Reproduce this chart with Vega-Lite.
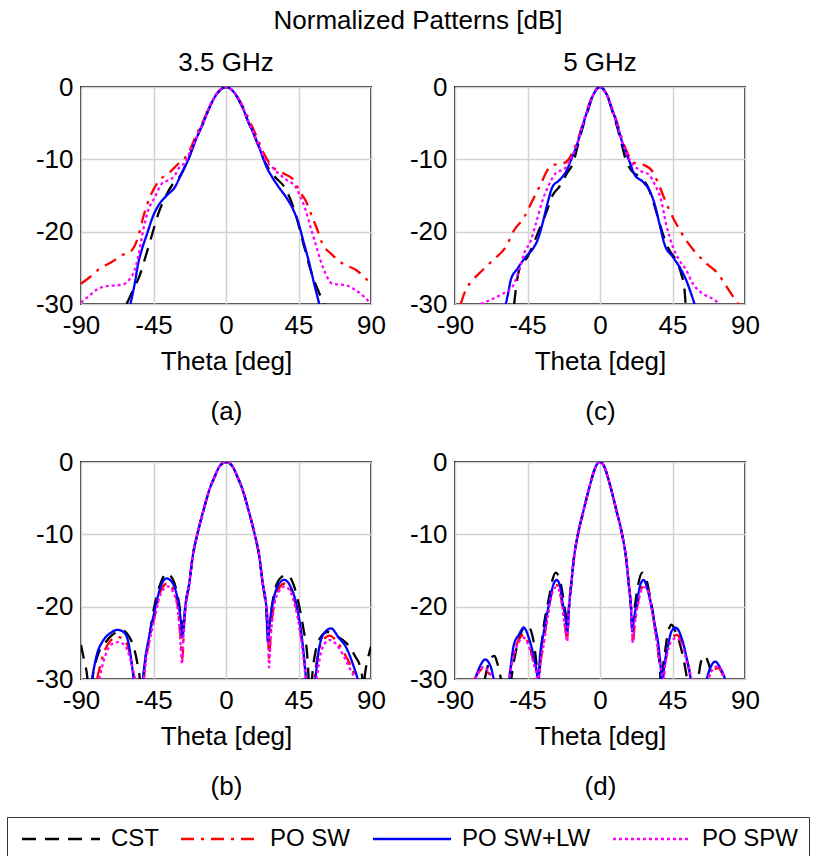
{
"$schema": "https://vega.github.io/schema/vega-lite/v6.json",
"padding": {"left": 6, "top": 8, "right": 0, "bottom": 0},
"title": {"text": "Normalized Patterns [dB]", "anchor": "middle", "fontSize": 26, "fontWeight": "normal", "font": "Liberation Sans", "color": "#000", "offset": 15, "dx": 10},
"config": {
  "font": "Liberation Sans",
  "view": {"stroke": "#333333", "strokeWidth": 2},
  "axis": {"grid": true, "gridColor": "#d2d2d2", "gridWidth": 1.5, "domain": false, "ticks": false, "labelFontSize": 26, "labelColor": "#000", "labelFont": "Liberation Sans", "titleFontSize": 26, "titleFontWeight": "normal", "titleColor": "#000", "titleFont": "Liberation Sans", "labelFlush": false, "labelPadding": 8, "labelExpr": "'' + datum.value"},
  "title": {"fontSize": 26, "fontWeight": "normal", "color": "#000", "font": "Liberation Sans"},
  "legend": {"labelFontSize": 24, "labelFont": "Liberation Sans", "labelColor": "#000"}
},
"data": {"values": [
{"p":"a","s":"CST","t":-61.7,"d":-30},{"p":"a","s":"CST","t":-57.5,"d":-28},{"p":"a","s":"CST","t":-53.5,"d":-26},{"p":"a","s":"CST","t":-50,"d":-23.5},{"p":"a","s":"CST","t":-46,"d":-20.5},{"p":"a","s":"CST","t":-42,"d":-17.5},{"p":"a","s":"CST","t":-38.5,"d":-15.6},{"p":"a","s":"CST","t":-33,"d":-13.4},{"p":"a","s":"CST","t":-28,"d":-12.1},{"p":"a","s":"CST","t":-24.5,"d":-10.6},{"p":"a","s":"CST","t":-21,"d":-8.6},{"p":"a","s":"CST","t":-17,"d":-6.4},{"p":"a","s":"CST","t":-14,"d":-4.9},{"p":"a","s":"CST","t":-10,"d":-2.7},{"p":"a","s":"CST","t":-5,"d":-0.75},{"p":"a","s":"CST","t":0,"d":0},{"p":"a","s":"CST","t":5,"d":-0.75},{"p":"a","s":"CST","t":10,"d":-2.7},{"p":"a","s":"CST","t":14,"d":-4.9},{"p":"a","s":"CST","t":17,"d":-6.4},{"p":"a","s":"CST","t":21,"d":-8.6},{"p":"a","s":"CST","t":24.5,"d":-10.5},{"p":"a","s":"CST","t":30,"d":-12.3},{"p":"a","s":"CST","t":37.5,"d":-14.3},{"p":"a","s":"CST","t":43.5,"d":-17.8},{"p":"a","s":"CST","t":47.5,"d":-21.2},{"p":"a","s":"CST","t":53.5,"d":-26},{"p":"a","s":"CST","t":57.5,"d":-28.3},{"p":"a","s":"CST","t":61,"d":-30},
{"p":"a","s":"PO SW","t":-90,"d":-27.2},{"p":"a","s":"PO SW","t":-84.6,"d":-26.3},{"p":"a","s":"PO SW","t":-78.4,"d":-25.1},{"p":"a","s":"PO SW","t":-71,"d":-24.2},{"p":"a","s":"PO SW","t":-64.9,"d":-23.3},{"p":"a","s":"PO SW","t":-58.6,"d":-22.6},{"p":"a","s":"PO SW","t":-54.5,"d":-20.7},{"p":"a","s":"PO SW","t":-51.4,"d":-18},{"p":"a","s":"PO SW","t":-47.2,"d":-15.2},{"p":"a","s":"PO SW","t":-42,"d":-13.1},{"p":"a","s":"PO SW","t":-34.7,"d":-11.75},{"p":"a","s":"PO SW","t":-29.5,"d":-10.6},{"p":"a","s":"PO SW","t":-25.5,"d":-9.8},{"p":"a","s":"PO SW","t":-22,"d":-8.5},{"p":"a","s":"PO SW","t":-19,"d":-6.9},{"p":"a","s":"PO SW","t":-14,"d":-4.6},{"p":"a","s":"PO SW","t":-10,"d":-2.6},{"p":"a","s":"PO SW","t":-5,"d":-0.7},{"p":"a","s":"PO SW","t":0,"d":0},{"p":"a","s":"PO SW","t":5,"d":-0.7},{"p":"a","s":"PO SW","t":10,"d":-2.5},{"p":"a","s":"PO SW","t":14,"d":-4.4},{"p":"a","s":"PO SW","t":18.3,"d":-6.5},{"p":"a","s":"PO SW","t":23.5,"d":-9.2},{"p":"a","s":"PO SW","t":28.7,"d":-11},{"p":"a","s":"PO SW","t":33,"d":-11.7},{"p":"a","s":"PO SW","t":37,"d":-12.1},{"p":"a","s":"PO SW","t":42.2,"d":-12.9},{"p":"a","s":"PO SW","t":45.3,"d":-14.3},{"p":"a","s":"PO SW","t":49.4,"d":-15.7},{"p":"a","s":"PO SW","t":53.6,"d":-18},{"p":"a","s":"PO SW","t":56.8,"d":-19.8},{"p":"a","s":"PO SW","t":59.9,"d":-21.7},{"p":"a","s":"PO SW","t":65,"d":-23},{"p":"a","s":"PO SW","t":72.3,"d":-24.4},{"p":"a","s":"PO SW","t":80.7,"d":-25.3},{"p":"a","s":"PO SW","t":86.9,"d":-26.5},{"p":"a","s":"PO SW","t":90,"d":-27.3},
{"p":"a","s":"PO SW+LW","t":-59.3,"d":-30},{"p":"a","s":"PO SW+LW","t":-56.5,"d":-27},{"p":"a","s":"PO SW+LW","t":-54.5,"d":-24.4},{"p":"a","s":"PO SW+LW","t":-52,"d":-22.3},{"p":"a","s":"PO SW+LW","t":-49.3,"d":-20.5},{"p":"a","s":"PO SW+LW","t":-45,"d":-17.7},{"p":"a","s":"PO SW+LW","t":-42,"d":-16.4},{"p":"a","s":"PO SW+LW","t":-36.8,"d":-15},{"p":"a","s":"PO SW+LW","t":-31.6,"d":-13.8},{"p":"a","s":"PO SW+LW","t":-28.5,"d":-12.4},{"p":"a","s":"PO SW+LW","t":-25.5,"d":-11},{"p":"a","s":"PO SW+LW","t":-23.3,"d":-10},{"p":"a","s":"PO SW+LW","t":-21,"d":-8.6},{"p":"a","s":"PO SW+LW","t":-17,"d":-6.4},{"p":"a","s":"PO SW+LW","t":-14,"d":-4.9},{"p":"a","s":"PO SW+LW","t":-10,"d":-2.7},{"p":"a","s":"PO SW+LW","t":-5,"d":-0.75},{"p":"a","s":"PO SW+LW","t":0,"d":0},{"p":"a","s":"PO SW+LW","t":5,"d":-0.75},{"p":"a","s":"PO SW+LW","t":10,"d":-2.7},{"p":"a","s":"PO SW+LW","t":14,"d":-4.9},{"p":"a","s":"PO SW+LW","t":17,"d":-6.4},{"p":"a","s":"PO SW+LW","t":21,"d":-8.6},{"p":"a","s":"PO SW+LW","t":23.3,"d":-10},{"p":"a","s":"PO SW+LW","t":25.5,"d":-11.2},{"p":"a","s":"PO SW+LW","t":28.5,"d":-12.4},{"p":"a","s":"PO SW+LW","t":32.6,"d":-13.8},{"p":"a","s":"PO SW+LW","t":37.8,"d":-15.4},{"p":"a","s":"PO SW+LW","t":42,"d":-17.1},{"p":"a","s":"PO SW+LW","t":45.1,"d":-18.9},{"p":"a","s":"PO SW+LW","t":48,"d":-21.3},{"p":"a","s":"PO SW+LW","t":51.3,"d":-24},{"p":"a","s":"PO SW+LW","t":54.5,"d":-27},{"p":"a","s":"PO SW+LW","t":57.9,"d":-30},
{"p":"a","s":"PO SPW","t":-90,"d":-29.8},{"p":"a","s":"PO SPW","t":-85.6,"d":-29},{"p":"a","s":"PO SPW","t":-79.4,"d":-27.9},{"p":"a","s":"PO SPW","t":-73,"d":-27.5},{"p":"a","s":"PO SPW","t":-67,"d":-27.4},{"p":"a","s":"PO SPW","t":-62.8,"d":-27.2},{"p":"a","s":"PO SPW","t":-60,"d":-26.6},{"p":"a","s":"PO SPW","t":-57.6,"d":-25.8},{"p":"a","s":"PO SPW","t":-54.5,"d":-23.5},{"p":"a","s":"PO SPW","t":-51.4,"d":-19.8},{"p":"a","s":"PO SPW","t":-48.2,"d":-17},{"p":"a","s":"PO SPW","t":-44,"d":-15.2},{"p":"a","s":"PO SPW","t":-40,"d":-13.4},{"p":"a","s":"PO SPW","t":-35.8,"d":-12.9},{"p":"a","s":"PO SPW","t":-32,"d":-12.3},{"p":"a","s":"PO SPW","t":-29.5,"d":-11.3},{"p":"a","s":"PO SPW","t":-25.4,"d":-10.4},{"p":"a","s":"PO SPW","t":-22,"d":-8.8},{"p":"a","s":"PO SPW","t":-17,"d":-6.3},{"p":"a","s":"PO SPW","t":-14,"d":-4.8},{"p":"a","s":"PO SPW","t":-10,"d":-2.6},{"p":"a","s":"PO SPW","t":-5,"d":-0.7},{"p":"a","s":"PO SPW","t":0,"d":0},{"p":"a","s":"PO SPW","t":5,"d":-0.7},{"p":"a","s":"PO SPW","t":10,"d":-2.6},{"p":"a","s":"PO SPW","t":14,"d":-4.8},{"p":"a","s":"PO SPW","t":17,"d":-6.3},{"p":"a","s":"PO SPW","t":21,"d":-8.4},{"p":"a","s":"PO SPW","t":25,"d":-10.3},{"p":"a","s":"PO SPW","t":28.7,"d":-11.1},{"p":"a","s":"PO SPW","t":32.8,"d":-12},{"p":"a","s":"PO SPW","t":38,"d":-12.9},{"p":"a","s":"PO SPW","t":43.2,"d":-13.8},{"p":"a","s":"PO SPW","t":46.3,"d":-15.2},{"p":"a","s":"PO SPW","t":49.4,"d":-17},{"p":"a","s":"PO SPW","t":52.5,"d":-19.4},{"p":"a","s":"PO SPW","t":55.6,"d":-21.7},{"p":"a","s":"PO SPW","t":58.7,"d":-24},{"p":"a","s":"PO SPW","t":61.8,"d":-25.8},{"p":"a","s":"PO SPW","t":66,"d":-27.2},{"p":"a","s":"PO SPW","t":74.3,"d":-27.4},{"p":"a","s":"PO SPW","t":80.5,"d":-28.1},{"p":"a","s":"PO SPW","t":85.7,"d":-29},{"p":"a","s":"PO SPW","t":90,"d":-30},

{"p":"c","s":"CST","t":-53.3,"d":-30},{"p":"c","s":"CST","t":-52.3,"d":-28.1},{"p":"c","s":"CST","t":-50.2,"d":-25.3},{"p":"c","s":"CST","t":-45,"d":-23.5},{"p":"c","s":"CST","t":-42,"d":-22.1},{"p":"c","s":"CST","t":-38.8,"d":-20.3},{"p":"c","s":"CST","t":-33.6,"d":-17.5},{"p":"c","s":"CST","t":-29.5,"d":-15},{"p":"c","s":"CST","t":-25.3,"d":-13.8},{"p":"c","s":"CST","t":-20,"d":-11.75},{"p":"c","s":"CST","t":-16.5,"d":-10.4},{"p":"c","s":"CST","t":-14,"d":-8.3},{"p":"c","s":"CST","t":-11,"d":-5.8},{"p":"c","s":"CST","t":-8,"d":-3.6},{"p":"c","s":"CST","t":-4,"d":-1},{"p":"c","s":"CST","t":0,"d":0},{"p":"c","s":"CST","t":4,"d":-1},{"p":"c","s":"CST","t":8,"d":-3.6},{"p":"c","s":"CST","t":11,"d":-5.8},{"p":"c","s":"CST","t":14,"d":-8.4},{"p":"c","s":"CST","t":15.5,"d":-9.7},{"p":"c","s":"CST","t":19.3,"d":-11.5},{"p":"c","s":"CST","t":24.5,"d":-12.4},{"p":"c","s":"CST","t":29.7,"d":-13.8},{"p":"c","s":"CST","t":32.8,"d":-15.7},{"p":"c","s":"CST","t":35.9,"d":-18},{"p":"c","s":"CST","t":39,"d":-20.3},{"p":"c","s":"CST","t":43.2,"d":-22.6},{"p":"c","s":"CST","t":47.3,"d":-24},{"p":"c","s":"CST","t":50.4,"d":-25.8},{"p":"c","s":"CST","t":52.5,"d":-28.1},{"p":"c","s":"CST","t":53.1,"d":-30},
{"p":"c","s":"PO SW","t":-86.5,"d":-30},{"p":"c","s":"PO SW","t":-83.4,"d":-28.1},{"p":"c","s":"PO SW","t":-80.3,"d":-27},{"p":"c","s":"PO SW","t":-75.1,"d":-25.8},{"p":"c","s":"PO SW","t":-66.8,"d":-24},{"p":"c","s":"PO SW","t":-58.5,"d":-22.1},{"p":"c","s":"PO SW","t":-53.3,"d":-19.8},{"p":"c","s":"PO SW","t":-47.1,"d":-18},{"p":"c","s":"PO SW","t":-41.9,"d":-15.7},{"p":"c","s":"PO SW","t":-36.7,"d":-13.4},{"p":"c","s":"PO SW","t":-32.6,"d":-11.5},{"p":"c","s":"PO SW","t":-29.5,"d":-10.8},{"p":"c","s":"PO SW","t":-23.2,"d":-10.6},{"p":"c","s":"PO SW","t":-18.5,"d":-9.7},{"p":"c","s":"PO SW","t":-16.5,"d":-8.7},{"p":"c","s":"PO SW","t":-14,"d":-7.5},{"p":"c","s":"PO SW","t":-11,"d":-5.3},{"p":"c","s":"PO SW","t":-8,"d":-3.2},{"p":"c","s":"PO SW","t":-4,"d":-0.9},{"p":"c","s":"PO SW","t":0,"d":0},{"p":"c","s":"PO SW","t":4,"d":-0.9},{"p":"c","s":"PO SW","t":8,"d":-3.2},{"p":"c","s":"PO SW","t":11,"d":-5.2},{"p":"c","s":"PO SW","t":14,"d":-7.4},{"p":"c","s":"PO SW","t":17.2,"d":-9.2},{"p":"c","s":"PO SW","t":21.4,"d":-10.5},{"p":"c","s":"PO SW","t":27.6,"d":-10.8},{"p":"c","s":"PO SW","t":32.8,"d":-11.75},{"p":"c","s":"PO SW","t":37,"d":-13.8},{"p":"c","s":"PO SW","t":42.2,"d":-16.6},{"p":"c","s":"PO SW","t":47.3,"d":-18.9},{"p":"c","s":"PO SW","t":53.5,"d":-21.2},{"p":"c","s":"PO SW","t":59.8,"d":-23},{"p":"c","s":"PO SW","t":66,"d":-24.4},{"p":"c","s":"PO SW","t":73.2,"d":-25.8},{"p":"c","s":"PO SW","t":77.4,"d":-27.2},{"p":"c","s":"PO SW","t":81.5,"d":-28.6},{"p":"c","s":"PO SW","t":85.7,"d":-30},
{"p":"c","s":"PO SW+LW","t":-58.5,"d":-30},{"p":"c","s":"PO SW+LW","t":-57,"d":-28.5},{"p":"c","s":"PO SW+LW","t":-55.4,"d":-26.7},{"p":"c","s":"PO SW+LW","t":-51.2,"d":-25.1},{"p":"c","s":"PO SW+LW","t":-46.1,"d":-23.5},{"p":"c","s":"PO SW+LW","t":-40.9,"d":-22.1},{"p":"c","s":"PO SW+LW","t":-38.8,"d":-21.2},{"p":"c","s":"PO SW+LW","t":-35.7,"d":-18.9},{"p":"c","s":"PO SW+LW","t":-32.6,"d":-16.1},{"p":"c","s":"PO SW+LW","t":-29.5,"d":-13.8},{"p":"c","s":"PO SW+LW","t":-25.3,"d":-12.9},{"p":"c","s":"PO SW+LW","t":-21.2,"d":-11.75},{"p":"c","s":"PO SW+LW","t":-18,"d":-10.1},{"p":"c","s":"PO SW+LW","t":-14,"d":-7.8},{"p":"c","s":"PO SW+LW","t":-11,"d":-5.5},{"p":"c","s":"PO SW+LW","t":-8,"d":-3.4},{"p":"c","s":"PO SW+LW","t":-4,"d":-1},{"p":"c","s":"PO SW+LW","t":0,"d":0},{"p":"c","s":"PO SW+LW","t":4,"d":-1},{"p":"c","s":"PO SW+LW","t":8,"d":-3.4},{"p":"c","s":"PO SW+LW","t":11,"d":-5.5},{"p":"c","s":"PO SW+LW","t":14,"d":-7.8},{"p":"c","s":"PO SW+LW","t":18.3,"d":-10.3},{"p":"c","s":"PO SW+LW","t":21.4,"d":-12.1},{"p":"c","s":"PO SW+LW","t":26.6,"d":-13.1},{"p":"c","s":"PO SW+LW","t":30.7,"d":-14.3},{"p":"c","s":"PO SW+LW","t":33.8,"d":-16.1},{"p":"c","s":"PO SW+LW","t":36.9,"d":-18.9},{"p":"c","s":"PO SW+LW","t":40,"d":-21.7},{"p":"c","s":"PO SW+LW","t":45.2,"d":-23.5},{"p":"c","s":"PO SW+LW","t":49.4,"d":-24.9},{"p":"c","s":"PO SW+LW","t":53.5,"d":-26.7},{"p":"c","s":"PO SW+LW","t":56.6,"d":-28.6},{"p":"c","s":"PO SW+LW","t":58.7,"d":-30},
{"p":"c","s":"PO SPW","t":-74,"d":-30},{"p":"c","s":"PO SPW","t":-66.8,"d":-29.3},{"p":"c","s":"PO SPW","t":-60.6,"d":-28.6},{"p":"c","s":"PO SPW","t":-54.4,"d":-27.6},{"p":"c","s":"PO SPW","t":-50.2,"d":-25.3},{"p":"c","s":"PO SPW","t":-47.1,"d":-23},{"p":"c","s":"PO SPW","t":-42.9,"d":-21.2},{"p":"c","s":"PO SPW","t":-39.8,"d":-18.9},{"p":"c","s":"PO SPW","t":-35.7,"d":-15.7},{"p":"c","s":"PO SPW","t":-31.5,"d":-13.4},{"p":"c","s":"PO SPW","t":-27.4,"d":-11.9},{"p":"c","s":"PO SPW","t":-21.5,"d":-11.2},{"p":"c","s":"PO SPW","t":-18,"d":-9.9},{"p":"c","s":"PO SPW","t":-14,"d":-7.7},{"p":"c","s":"PO SPW","t":-11,"d":-5.4},{"p":"c","s":"PO SPW","t":-8,"d":-3.3},{"p":"c","s":"PO SPW","t":-4,"d":-1},{"p":"c","s":"PO SPW","t":0,"d":0},{"p":"c","s":"PO SPW","t":4,"d":-1},{"p":"c","s":"PO SPW","t":8,"d":-3.3},{"p":"c","s":"PO SPW","t":11,"d":-5.4},{"p":"c","s":"PO SPW","t":14,"d":-7.7},{"p":"c","s":"PO SPW","t":18.3,"d":-10},{"p":"c","s":"PO SPW","t":24.5,"d":-11.5},{"p":"c","s":"PO SPW","t":30.7,"d":-12.2},{"p":"c","s":"PO SPW","t":33.8,"d":-13.4},{"p":"c","s":"PO SPW","t":38,"d":-15.7},{"p":"c","s":"PO SPW","t":41,"d":-18.9},{"p":"c","s":"PO SPW","t":45.2,"d":-22.1},{"p":"c","s":"PO SPW","t":49.4,"d":-24},{"p":"c","s":"PO SPW","t":53.5,"d":-25.3},{"p":"c","s":"PO SPW","t":57.7,"d":-27.2},{"p":"c","s":"PO SPW","t":63.9,"d":-28.6},{"p":"c","s":"PO SPW","t":70.1,"d":-29.3},{"p":"c","s":"PO SPW","t":74.3,"d":-30},

{"p":"b","s":"CST","t":-90,"d":-25.3},{"p":"b","s":"CST","t":-88,"d":-27.5},{"p":"b","s":"CST","t":-86,"d":-30},{"p":"b","s":"CST","t":-84.5,"d":-36},{"p":"b","s":"CST","t":-82.8,"d":-30},{"p":"b","s":"CST","t":-80,"d":-27},{"p":"b","s":"CST","t":-75,"d":-25},{"p":"b","s":"CST","t":-70,"d":-23.8},{"p":"b","s":"CST","t":-64,"d":-23.3},{"p":"b","s":"CST","t":-60,"d":-24.2},{"p":"b","s":"CST","t":-57,"d":-25.8},{"p":"b","s":"CST","t":-54.5,"d":-28.5},{"p":"b","s":"CST","t":-53.5,"d":-30},{"p":"b","s":"CST","t":-52.4,"d":-36},{"p":"b","s":"CST","t":-51.3,"d":-30},{"p":"b","s":"CST","t":-48,"d":-24.7},{"p":"b","s":"CST","t":-44.5,"d":-20},{"p":"b","s":"CST","t":-41,"d":-17},{"p":"b","s":"CST","t":-36.8,"d":-15.4},{"p":"b","s":"CST","t":-33,"d":-16.2},{"p":"b","s":"CST","t":-30,"d":-18.5},{"p":"b","s":"CST","t":-27.8,"d":-21.5},{"p":"b","s":"CST","t":-26.6,"d":-23.5},{"p":"b","s":"CST","t":-25.3,"d":-20},{"p":"b","s":"CST","t":-22.8,"d":-16.8},{"p":"b","s":"CST","t":-20.7,"d":-13.1},{"p":"b","s":"CST","t":-17.8,"d":-10},{"p":"b","s":"CST","t":-14,"d":-6.7},{"p":"b","s":"CST","t":-10.4,"d":-3.9},{"p":"b","s":"CST","t":-7.2,"d":-2.1},{"p":"b","s":"CST","t":-4,"d":-0.6},{"p":"b","s":"CST","t":0,"d":0},{"p":"b","s":"CST","t":4,"d":-0.6},{"p":"b","s":"CST","t":7.2,"d":-2.1},{"p":"b","s":"CST","t":10.4,"d":-3.9},{"p":"b","s":"CST","t":14,"d":-6.7},{"p":"b","s":"CST","t":17.8,"d":-10},{"p":"b","s":"CST","t":20.7,"d":-13.1},{"p":"b","s":"CST","t":22.8,"d":-16.8},{"p":"b","s":"CST","t":24.8,"d":-20},{"p":"b","s":"CST","t":26.3,"d":-23.5},{"p":"b","s":"CST","t":27.5,"d":-21.5},{"p":"b","s":"CST","t":30,"d":-18},{"p":"b","s":"CST","t":34,"d":-16},{"p":"b","s":"CST","t":38,"d":-15.6},{"p":"b","s":"CST","t":42,"d":-17},{"p":"b","s":"CST","t":45,"d":-19.5},{"p":"b","s":"CST","t":48,"d":-23},{"p":"b","s":"CST","t":50.5,"d":-27},{"p":"b","s":"CST","t":51.3,"d":-30},{"p":"b","s":"CST","t":52.4,"d":-36},{"p":"b","s":"CST","t":53.4,"d":-30},{"p":"b","s":"CST","t":55.5,"d":-26.3},{"p":"b","s":"CST","t":58.5,"d":-24.3},{"p":"b","s":"CST","t":63.1,"d":-23.5},{"p":"b","s":"CST","t":68,"d":-24},{"p":"b","s":"CST","t":75,"d":-25.1},{"p":"b","s":"CST","t":80,"d":-26.8},{"p":"b","s":"CST","t":83.9,"d":-28.8},{"p":"b","s":"CST","t":84.6,"d":-30},{"p":"b","s":"CST","t":85.3,"d":-36},{"p":"b","s":"CST","t":86,"d":-30},{"p":"b","s":"CST","t":88,"d":-27.3},{"p":"b","s":"CST","t":90,"d":-25.5},
{"p":"b","s":"PO SW","t":-80,"d":-30},{"p":"b","s":"PO SW","t":-76,"d":-26.5},{"p":"b","s":"PO SW","t":-72,"d":-24.8},{"p":"b","s":"PO SW","t":-67.3,"d":-24.2},{"p":"b","s":"PO SW","t":-63,"d":-24.6},{"p":"b","s":"PO SW","t":-60,"d":-26.2},{"p":"b","s":"PO SW","t":-58,"d":-28.5},{"p":"b","s":"PO SW","t":-57,"d":-30},{"p":"b","s":"PO SW","t":-54,"d":-38},{"p":"b","s":"PO SW","t":-51,"d":-30},{"p":"b","s":"PO SW","t":-49.5,"d":-27},{"p":"b","s":"PO SW","t":-47.5,"d":-24.5},{"p":"b","s":"PO SW","t":-44,"d":-21},{"p":"b","s":"PO SW","t":-40.5,"d":-17.8},{"p":"b","s":"PO SW","t":-36.5,"d":-16.8},{"p":"b","s":"PO SW","t":-33,"d":-17.5},{"p":"b","s":"PO SW","t":-30,"d":-19.8},{"p":"b","s":"PO SW","t":-28.5,"d":-23.5},{"p":"b","s":"PO SW","t":-27,"d":-27.2},{"p":"b","s":"PO SW","t":-26,"d":-22.5},{"p":"b","s":"PO SW","t":-25,"d":-20},{"p":"b","s":"PO SW","t":-22.8,"d":-16.8},{"p":"b","s":"PO SW","t":-20.7,"d":-13.1},{"p":"b","s":"PO SW","t":-17.8,"d":-10},{"p":"b","s":"PO SW","t":-14,"d":-6.7},{"p":"b","s":"PO SW","t":-10.4,"d":-3.9},{"p":"b","s":"PO SW","t":-7.2,"d":-2.1},{"p":"b","s":"PO SW","t":-4,"d":-0.6},{"p":"b","s":"PO SW","t":0,"d":0},{"p":"b","s":"PO SW","t":4,"d":-0.6},{"p":"b","s":"PO SW","t":7.2,"d":-2.1},{"p":"b","s":"PO SW","t":10.4,"d":-3.9},{"p":"b","s":"PO SW","t":14,"d":-6.7},{"p":"b","s":"PO SW","t":17.8,"d":-10},{"p":"b","s":"PO SW","t":20.7,"d":-13.1},{"p":"b","s":"PO SW","t":22.8,"d":-16.8},{"p":"b","s":"PO SW","t":25,"d":-20},{"p":"b","s":"PO SW","t":26,"d":-22.5},{"p":"b","s":"PO SW","t":26.7,"d":-27.2},{"p":"b","s":"PO SW","t":27.8,"d":-23.5},{"p":"b","s":"PO SW","t":29.5,"d":-20},{"p":"b","s":"PO SW","t":32.5,"d":-17.6},{"p":"b","s":"PO SW","t":36.5,"d":-16.8},{"p":"b","s":"PO SW","t":40,"d":-17.6},{"p":"b","s":"PO SW","t":44,"d":-20.5},{"p":"b","s":"PO SW","t":47.5,"d":-25.5},{"p":"b","s":"PO SW","t":49.7,"d":-30},{"p":"b","s":"PO SW","t":52.3,"d":-38},{"p":"b","s":"PO SW","t":54.9,"d":-30},{"p":"b","s":"PO SW","t":57.5,"d":-26.2},{"p":"b","s":"PO SW","t":60.5,"d":-24.6},{"p":"b","s":"PO SW","t":64.2,"d":-24},{"p":"b","s":"PO SW","t":68,"d":-24.6},{"p":"b","s":"PO SW","t":73,"d":-26.3},{"p":"b","s":"PO SW","t":77.5,"d":-28.2},{"p":"b","s":"PO SW","t":80.7,"d":-30},
{"p":"b","s":"PO SW+LW","t":-83.2,"d":-30},{"p":"b","s":"PO SW+LW","t":-80,"d":-26.5},{"p":"b","s":"PO SW+LW","t":-76.6,"d":-24.8},{"p":"b","s":"PO SW+LW","t":-71.4,"d":-23.6},{"p":"b","s":"PO SW+LW","t":-67.3,"d":-23.2},{"p":"b","s":"PO SW+LW","t":-63.1,"d":-23.6},{"p":"b","s":"PO SW+LW","t":-60,"d":-25.6},{"p":"b","s":"PO SW+LW","t":-58,"d":-28.8},{"p":"b","s":"PO SW+LW","t":-57.3,"d":-30},{"p":"b","s":"PO SW+LW","t":-54.4,"d":-38},{"p":"b","s":"PO SW+LW","t":-51.5,"d":-30},{"p":"b","s":"PO SW+LW","t":-50,"d":-27},{"p":"b","s":"PO SW+LW","t":-48,"d":-24.5},{"p":"b","s":"PO SW+LW","t":-44,"d":-20.3},{"p":"b","s":"PO SW+LW","t":-40.5,"d":-17.2},{"p":"b","s":"PO SW+LW","t":-36.8,"d":-16.1},{"p":"b","s":"PO SW+LW","t":-33,"d":-16.8},{"p":"b","s":"PO SW+LW","t":-30,"d":-19},{"p":"b","s":"PO SW+LW","t":-28,"d":-22},{"p":"b","s":"PO SW+LW","t":-27,"d":-24.2},{"p":"b","s":"PO SW+LW","t":-25.3,"d":-20},{"p":"b","s":"PO SW+LW","t":-22.8,"d":-16.8},{"p":"b","s":"PO SW+LW","t":-20.7,"d":-13.1},{"p":"b","s":"PO SW+LW","t":-17.8,"d":-10},{"p":"b","s":"PO SW+LW","t":-14,"d":-6.7},{"p":"b","s":"PO SW+LW","t":-10.4,"d":-3.9},{"p":"b","s":"PO SW+LW","t":-7.2,"d":-2.1},{"p":"b","s":"PO SW+LW","t":-4,"d":-0.6},{"p":"b","s":"PO SW+LW","t":0,"d":0},{"p":"b","s":"PO SW+LW","t":4,"d":-0.6},{"p":"b","s":"PO SW+LW","t":7.2,"d":-2.1},{"p":"b","s":"PO SW+LW","t":10.4,"d":-3.9},{"p":"b","s":"PO SW+LW","t":14,"d":-6.7},{"p":"b","s":"PO SW+LW","t":17.8,"d":-10},{"p":"b","s":"PO SW+LW","t":20.7,"d":-13.1},{"p":"b","s":"PO SW+LW","t":22.8,"d":-16.8},{"p":"b","s":"PO SW+LW","t":25,"d":-20},{"p":"b","s":"PO SW+LW","t":26,"d":-24.9},{"p":"b","s":"PO SW+LW","t":27.3,"d":-22},{"p":"b","s":"PO SW+LW","t":29.5,"d":-19},{"p":"b","s":"PO SW+LW","t":32.5,"d":-17},{"p":"b","s":"PO SW+LW","t":36.2,"d":-16.3},{"p":"b","s":"PO SW+LW","t":40,"d":-17.2},{"p":"b","s":"PO SW+LW","t":44,"d":-20},{"p":"b","s":"PO SW+LW","t":47.5,"d":-25},{"p":"b","s":"PO SW+LW","t":49.7,"d":-30},{"p":"b","s":"PO SW+LW","t":52.6,"d":-38},{"p":"b","s":"PO SW+LW","t":55.5,"d":-30},{"p":"b","s":"PO SW+LW","t":58,"d":-25.5},{"p":"b","s":"PO SW+LW","t":61.5,"d":-23.5},{"p":"b","s":"PO SW+LW","t":65.2,"d":-23},{"p":"b","s":"PO SW+LW","t":70,"d":-24.3},{"p":"b","s":"PO SW+LW","t":74.5,"d":-25.6},{"p":"b","s":"PO SW+LW","t":78.7,"d":-27.9},{"p":"b","s":"PO SW+LW","t":81.8,"d":-30},
{"p":"b","s":"PO SPW","t":-78.7,"d":-30},{"p":"b","s":"PO SPW","t":-75,"d":-26.8},{"p":"b","s":"PO SPW","t":-71,"d":-25.2},{"p":"b","s":"PO SPW","t":-67,"d":-24.9},{"p":"b","s":"PO SPW","t":-63,"d":-25.3},{"p":"b","s":"PO SPW","t":-60,"d":-26.8},{"p":"b","s":"PO SPW","t":-57.7,"d":-28.8},{"p":"b","s":"PO SPW","t":-56.5,"d":-30},{"p":"b","s":"PO SPW","t":-53.8,"d":-38},{"p":"b","s":"PO SPW","t":-51,"d":-30},{"p":"b","s":"PO SPW","t":-49.5,"d":-27.2},{"p":"b","s":"PO SPW","t":-47.5,"d":-24.8},{"p":"b","s":"PO SPW","t":-44,"d":-21.3},{"p":"b","s":"PO SPW","t":-40.5,"d":-18.2},{"p":"b","s":"PO SPW","t":-36,"d":-17.2},{"p":"b","s":"PO SPW","t":-33,"d":-17.9},{"p":"b","s":"PO SPW","t":-30,"d":-20.3},{"p":"b","s":"PO SPW","t":-28.5,"d":-24},{"p":"b","s":"PO SPW","t":-27.3,"d":-27.9},{"p":"b","s":"PO SPW","t":-26.2,"d":-23},{"p":"b","s":"PO SPW","t":-25,"d":-20},{"p":"b","s":"PO SPW","t":-22.8,"d":-16.8},{"p":"b","s":"PO SPW","t":-20.7,"d":-13.1},{"p":"b","s":"PO SPW","t":-17.8,"d":-10},{"p":"b","s":"PO SPW","t":-14,"d":-6.7},{"p":"b","s":"PO SPW","t":-10.4,"d":-3.9},{"p":"b","s":"PO SPW","t":-7.2,"d":-2.1},{"p":"b","s":"PO SPW","t":-4,"d":-0.6},{"p":"b","s":"PO SPW","t":0,"d":0},{"p":"b","s":"PO SPW","t":4,"d":-0.6},{"p":"b","s":"PO SPW","t":7.2,"d":-2.1},{"p":"b","s":"PO SPW","t":10.4,"d":-3.9},{"p":"b","s":"PO SPW","t":14,"d":-6.7},{"p":"b","s":"PO SPW","t":17.8,"d":-10},{"p":"b","s":"PO SPW","t":20.7,"d":-13.1},{"p":"b","s":"PO SPW","t":22.8,"d":-16.8},{"p":"b","s":"PO SPW","t":25,"d":-20},{"p":"b","s":"PO SPW","t":26.1,"d":-23},{"p":"b","s":"PO SPW","t":26.7,"d":-28.4},{"p":"b","s":"PO SPW","t":27.7,"d":-24.5},{"p":"b","s":"PO SPW","t":29.5,"d":-20.5},{"p":"b","s":"PO SPW","t":32.5,"d":-18},{"p":"b","s":"PO SPW","t":36.5,"d":-17.2},{"p":"b","s":"PO SPW","t":40,"d":-18},{"p":"b","s":"PO SPW","t":44,"d":-21},{"p":"b","s":"PO SPW","t":47.5,"d":-26},{"p":"b","s":"PO SPW","t":49.5,"d":-30},{"p":"b","s":"PO SPW","t":52.9,"d":-38},{"p":"b","s":"PO SPW","t":56.3,"d":-30},{"p":"b","s":"PO SPW","t":58.5,"d":-26.8},{"p":"b","s":"PO SPW","t":61,"d":-25.2},{"p":"b","s":"PO SPW","t":64.2,"d":-24.6},{"p":"b","s":"PO SPW","t":68,"d":-25.1},{"p":"b","s":"PO SPW","t":73,"d":-26.8},{"p":"b","s":"PO SPW","t":77,"d":-28.6},{"p":"b","s":"PO SPW","t":80.3,"d":-30},

{"p":"d","s":"CST","t":-71.5,"d":-30},{"p":"d","s":"CST","t":-70,"d":-28.5},{"p":"d","s":"CST","t":-67.5,"d":-27},{"p":"d","s":"CST","t":-65.5,"d":-26.8},{"p":"d","s":"CST","t":-64,"d":-27.6},{"p":"d","s":"CST","t":-62.5,"d":-29},{"p":"d","s":"CST","t":-61.5,"d":-30},{"p":"d","s":"CST","t":-58,"d":-38},{"p":"d","s":"CST","t":-55,"d":-30},{"p":"d","s":"CST","t":-52.5,"d":-26.5},{"p":"d","s":"CST","t":-49,"d":-23.6},{"p":"d","s":"CST","t":-45.2,"d":-22.5},{"p":"d","s":"CST","t":-42,"d":-24},{"p":"d","s":"CST","t":-40,"d":-26.8},{"p":"d","s":"CST","t":-38.8,"d":-30},{"p":"d","s":"CST","t":-38.2,"d":-34},{"p":"d","s":"CST","t":-37.6,"d":-30},{"p":"d","s":"CST","t":-35.8,"d":-24.3},{"p":"d","s":"CST","t":-33.5,"d":-20.8},{"p":"d","s":"CST","t":-31.7,"d":-18.8},{"p":"d","s":"CST","t":-29.5,"d":-16.3},{"p":"d","s":"CST","t":-27.5,"d":-15.3},{"p":"d","s":"CST","t":-25,"d":-16.2},{"p":"d","s":"CST","t":-23,"d":-18.5},{"p":"d","s":"CST","t":-21.3,"d":-21},{"p":"d","s":"CST","t":-20.3,"d":-22.3},{"p":"d","s":"CST","t":-19.2,"d":-20},{"p":"d","s":"CST","t":-17.9,"d":-17},{"p":"d","s":"CST","t":-16.2,"d":-13.3},{"p":"d","s":"CST","t":-13.7,"d":-10},{"p":"d","s":"CST","t":-10.3,"d":-6.8},{"p":"d","s":"CST","t":-7.3,"d":-4.1},{"p":"d","s":"CST","t":-5,"d":-2.2},{"p":"d","s":"CST","t":-2.5,"d":-0.55},{"p":"d","s":"CST","t":0,"d":0},{"p":"d","s":"CST","t":2.5,"d":-0.55},{"p":"d","s":"CST","t":5,"d":-2.2},{"p":"d","s":"CST","t":7.3,"d":-4.1},{"p":"d","s":"CST","t":10.3,"d":-6.8},{"p":"d","s":"CST","t":13.7,"d":-10},{"p":"d","s":"CST","t":16.2,"d":-13.3},{"p":"d","s":"CST","t":17.9,"d":-17},{"p":"d","s":"CST","t":19.2,"d":-20},{"p":"d","s":"CST","t":20.2,"d":-22.5},{"p":"d","s":"CST","t":21.3,"d":-20.5},{"p":"d","s":"CST","t":23,"d":-17.8},{"p":"d","s":"CST","t":26.3,"d":-15.3},{"p":"d","s":"CST","t":28.5,"d":-16},{"p":"d","s":"CST","t":31,"d":-18.5},{"p":"d","s":"CST","t":34,"d":-22.5},{"p":"d","s":"CST","t":36.3,"d":-26.5},{"p":"d","s":"CST","t":37.5,"d":-30},{"p":"d","s":"CST","t":38,"d":-34},{"p":"d","s":"CST","t":38.6,"d":-30},{"p":"d","s":"CST","t":40.5,"d":-26},{"p":"d","s":"CST","t":42.5,"d":-23.3},{"p":"d","s":"CST","t":44.4,"d":-22.5},{"p":"d","s":"CST","t":47,"d":-23.5},{"p":"d","s":"CST","t":50,"d":-25.5},{"p":"d","s":"CST","t":52.5,"d":-28},{"p":"d","s":"CST","t":54,"d":-30},{"p":"d","s":"CST","t":57.5,"d":-38},{"p":"d","s":"CST","t":61,"d":-30},{"p":"d","s":"CST","t":62.5,"d":-27.8},{"p":"d","s":"CST","t":64.5,"d":-26.8},{"p":"d","s":"CST","t":66.5,"d":-27.3},{"p":"d","s":"CST","t":68.5,"d":-28.8},{"p":"d","s":"CST","t":69.5,"d":-30},
{"p":"d","s":"PO SW","t":-78,"d":-30},{"p":"d","s":"PO SW","t":-75,"d":-29},{"p":"d","s":"PO SW","t":-72.3,"d":-28.5},{"p":"d","s":"PO SW","t":-69.5,"d":-29.1},{"p":"d","s":"PO SW","t":-67,"d":-30},{"p":"d","s":"PO SW","t":-62,"d":-38},{"p":"d","s":"PO SW","t":-56.7,"d":-30},{"p":"d","s":"PO SW","t":-53.5,"d":-26.5},{"p":"d","s":"PO SW","t":-50.5,"d":-24.6},{"p":"d","s":"PO SW","t":-47.3,"d":-23.9},{"p":"d","s":"PO SW","t":-44.5,"d":-25},{"p":"d","s":"PO SW","t":-41,"d":-27.8},{"p":"d","s":"PO SW","t":-38.8,"d":-30},{"p":"d","s":"PO SW","t":-38.3,"d":-33},{"p":"d","s":"PO SW","t":-37.8,"d":-30},{"p":"d","s":"PO SW","t":-35,"d":-25},{"p":"d","s":"PO SW","t":-32,"d":-20.5},{"p":"d","s":"PO SW","t":-29.5,"d":-17.8},{"p":"d","s":"PO SW","t":-27.1,"d":-17},{"p":"d","s":"PO SW","t":-25,"d":-17.8},{"p":"d","s":"PO SW","t":-23.3,"d":-20},{"p":"d","s":"PO SW","t":-21.5,"d":-23},{"p":"d","s":"PO SW","t":-20.4,"d":-24.6},{"p":"d","s":"PO SW","t":-19.3,"d":-20},{"p":"d","s":"PO SW","t":-17.9,"d":-17},{"p":"d","s":"PO SW","t":-16.2,"d":-13.3},{"p":"d","s":"PO SW","t":-13.7,"d":-10},{"p":"d","s":"PO SW","t":-10.3,"d":-6.8},{"p":"d","s":"PO SW","t":-7.3,"d":-4.1},{"p":"d","s":"PO SW","t":-5,"d":-2.2},{"p":"d","s":"PO SW","t":-2.5,"d":-0.55},{"p":"d","s":"PO SW","t":0,"d":0},{"p":"d","s":"PO SW","t":2.5,"d":-0.55},{"p":"d","s":"PO SW","t":5,"d":-2.2},{"p":"d","s":"PO SW","t":7.3,"d":-4.1},{"p":"d","s":"PO SW","t":10.3,"d":-6.8},{"p":"d","s":"PO SW","t":13.7,"d":-10},{"p":"d","s":"PO SW","t":16.2,"d":-13.3},{"p":"d","s":"PO SW","t":17.9,"d":-17},{"p":"d","s":"PO SW","t":19.3,"d":-20},{"p":"d","s":"PO SW","t":20.4,"d":-25},{"p":"d","s":"PO SW","t":21.5,"d":-22.5},{"p":"d","s":"PO SW","t":23.5,"d":-19.5},{"p":"d","s":"PO SW","t":25.5,"d":-17.6},{"p":"d","s":"PO SW","t":27.7,"d":-17},{"p":"d","s":"PO SW","t":30,"d":-17.8},{"p":"d","s":"PO SW","t":32,"d":-20},{"p":"d","s":"PO SW","t":34.5,"d":-23.5},{"p":"d","s":"PO SW","t":37,"d":-27.5},{"p":"d","s":"PO SW","t":38.6,"d":-30},{"p":"d","s":"PO SW","t":39.1,"d":-33},{"p":"d","s":"PO SW","t":39.6,"d":-30},{"p":"d","s":"PO SW","t":41.5,"d":-26.5},{"p":"d","s":"PO SW","t":44,"d":-24.6},{"p":"d","s":"PO SW","t":47.5,"d":-23.9},{"p":"d","s":"PO SW","t":51,"d":-25},{"p":"d","s":"PO SW","t":54,"d":-27.5},{"p":"d","s":"PO SW","t":56.9,"d":-30},{"p":"d","s":"PO SW","t":62,"d":-38},{"p":"d","s":"PO SW","t":67.3,"d":-30},{"p":"d","s":"PO SW","t":70.5,"d":-28.8},{"p":"d","s":"PO SW","t":73.5,"d":-28.5},{"p":"d","s":"PO SW","t":75.5,"d":-29.1},{"p":"d","s":"PO SW","t":77.1,"d":-30},
{"p":"d","s":"PO SW+LW","t":-77.5,"d":-30},{"p":"d","s":"PO SW+LW","t":-74.4,"d":-28.2},{"p":"d","s":"PO SW+LW","t":-71.3,"d":-27.3},{"p":"d","s":"PO SW+LW","t":-68,"d":-28.2},{"p":"d","s":"PO SW+LW","t":-66,"d":-30},{"p":"d","s":"PO SW+LW","t":-61,"d":-38},{"p":"d","s":"PO SW+LW","t":-56.3,"d":-30},{"p":"d","s":"PO SW+LW","t":-53.5,"d":-25.3},{"p":"d","s":"PO SW+LW","t":-50.4,"d":-23.9},{"p":"d","s":"PO SW+LW","t":-47.3,"d":-22.9},{"p":"d","s":"PO SW+LW","t":-44.2,"d":-24.3},{"p":"d","s":"PO SW+LW","t":-41,"d":-27.1},{"p":"d","s":"PO SW+LW","t":-38.8,"d":-30},{"p":"d","s":"PO SW+LW","t":-38.4,"d":-33},{"p":"d","s":"PO SW+LW","t":-38,"d":-30},{"p":"d","s":"PO SW+LW","t":-37.5,"d":-27.6},{"p":"d","s":"PO SW+LW","t":-34.8,"d":-23.4},{"p":"d","s":"PO SW+LW","t":-31.7,"d":-19.7},{"p":"d","s":"PO SW+LW","t":-29,"d":-17},{"p":"d","s":"PO SW+LW","t":-26.9,"d":-16.3},{"p":"d","s":"PO SW+LW","t":-25,"d":-17},{"p":"d","s":"PO SW+LW","t":-23.3,"d":-19.3},{"p":"d","s":"PO SW+LW","t":-21.3,"d":-21.8},{"p":"d","s":"PO SW+LW","t":-20.2,"d":-23.4},{"p":"d","s":"PO SW+LW","t":-19.2,"d":-20},{"p":"d","s":"PO SW+LW","t":-17.9,"d":-17},{"p":"d","s":"PO SW+LW","t":-16.2,"d":-13.3},{"p":"d","s":"PO SW+LW","t":-13.7,"d":-10},{"p":"d","s":"PO SW+LW","t":-10.3,"d":-6.8},{"p":"d","s":"PO SW+LW","t":-7.3,"d":-4.1},{"p":"d","s":"PO SW+LW","t":-5,"d":-2.2},{"p":"d","s":"PO SW+LW","t":-2.5,"d":-0.55},{"p":"d","s":"PO SW+LW","t":0,"d":0},{"p":"d","s":"PO SW+LW","t":2.5,"d":-0.55},{"p":"d","s":"PO SW+LW","t":5,"d":-2.2},{"p":"d","s":"PO SW+LW","t":7.3,"d":-4.1},{"p":"d","s":"PO SW+LW","t":10.3,"d":-6.8},{"p":"d","s":"PO SW+LW","t":13.7,"d":-10},{"p":"d","s":"PO SW+LW","t":16.2,"d":-13.3},{"p":"d","s":"PO SW+LW","t":17.9,"d":-17},{"p":"d","s":"PO SW+LW","t":19.2,"d":-20},{"p":"d","s":"PO SW+LW","t":20,"d":-23.4},{"p":"d","s":"PO SW+LW","t":21.2,"d":-21.5},{"p":"d","s":"PO SW+LW","t":23,"d":-19.3},{"p":"d","s":"PO SW+LW","t":25,"d":-17},{"p":"d","s":"PO SW+LW","t":27.1,"d":-16.3},{"p":"d","s":"PO SW+LW","t":29,"d":-17.2},{"p":"d","s":"PO SW+LW","t":30.8,"d":-18.8},{"p":"d","s":"PO SW+LW","t":34,"d":-22.5},{"p":"d","s":"PO SW+LW","t":36.7,"d":-26.2},{"p":"d","s":"PO SW+LW","t":38.1,"d":-30},{"p":"d","s":"PO SW+LW","t":38.6,"d":-33},{"p":"d","s":"PO SW+LW","t":39.2,"d":-30},{"p":"d","s":"PO SW+LW","t":40.5,"d":-27.3},{"p":"d","s":"PO SW+LW","t":42.3,"d":-25.3},{"p":"d","s":"PO SW+LW","t":44.4,"d":-23.4},{"p":"d","s":"PO SW+LW","t":47.1,"d":-22.9},{"p":"d","s":"PO SW+LW","t":50.6,"d":-24.3},{"p":"d","s":"PO SW+LW","t":53.8,"d":-27.1},{"p":"d","s":"PO SW+LW","t":56.3,"d":-30},{"p":"d","s":"PO SW+LW","t":61,"d":-38},{"p":"d","s":"PO SW+LW","t":66.3,"d":-30},{"p":"d","s":"PO SW+LW","t":69,"d":-28.2},{"p":"d","s":"PO SW+LW","t":71.5,"d":-27.6},{"p":"d","s":"PO SW+LW","t":74.5,"d":-28.4},{"p":"d","s":"PO SW+LW","t":77.7,"d":-30},
{"p":"d","s":"PO SPW","t":-77.5,"d":-30},{"p":"d","s":"PO SPW","t":-75,"d":-28.9},{"p":"d","s":"PO SPW","t":-72,"d":-28.3},{"p":"d","s":"PO SPW","t":-69.5,"d":-28.9},{"p":"d","s":"PO SPW","t":-67,"d":-30},{"p":"d","s":"PO SPW","t":-62,"d":-38},{"p":"d","s":"PO SPW","t":-56.5,"d":-30},{"p":"d","s":"PO SPW","t":-53.5,"d":-26.8},{"p":"d","s":"PO SPW","t":-50.5,"d":-24.9},{"p":"d","s":"PO SPW","t":-47.2,"d":-24.3},{"p":"d","s":"PO SPW","t":-44.5,"d":-25.3},{"p":"d","s":"PO SPW","t":-41,"d":-28},{"p":"d","s":"PO SPW","t":-38.9,"d":-30},{"p":"d","s":"PO SPW","t":-38.4,"d":-33},{"p":"d","s":"PO SPW","t":-37.9,"d":-30},{"p":"d","s":"PO SPW","t":-35,"d":-25.3},{"p":"d","s":"PO SPW","t":-32,"d":-20.8},{"p":"d","s":"PO SPW","t":-29.5,"d":-18},{"p":"d","s":"PO SPW","t":-27,"d":-17.3},{"p":"d","s":"PO SPW","t":-25,"d":-18},{"p":"d","s":"PO SPW","t":-23.3,"d":-20.2},{"p":"d","s":"PO SPW","t":-21.5,"d":-23.3},{"p":"d","s":"PO SPW","t":-20.4,"d":-24.8},{"p":"d","s":"PO SPW","t":-19.3,"d":-20},{"p":"d","s":"PO SPW","t":-17.9,"d":-17},{"p":"d","s":"PO SPW","t":-16.2,"d":-13.3},{"p":"d","s":"PO SPW","t":-13.7,"d":-10},{"p":"d","s":"PO SPW","t":-10.3,"d":-6.8},{"p":"d","s":"PO SPW","t":-7.3,"d":-4.1},{"p":"d","s":"PO SPW","t":-5,"d":-2.2},{"p":"d","s":"PO SPW","t":-2.5,"d":-0.55},{"p":"d","s":"PO SPW","t":0,"d":0},{"p":"d","s":"PO SPW","t":2.5,"d":-0.55},{"p":"d","s":"PO SPW","t":5,"d":-2.2},{"p":"d","s":"PO SPW","t":7.3,"d":-4.1},{"p":"d","s":"PO SPW","t":10.3,"d":-6.8},{"p":"d","s":"PO SPW","t":13.7,"d":-10},{"p":"d","s":"PO SPW","t":16.2,"d":-13.3},{"p":"d","s":"PO SPW","t":17.9,"d":-17},{"p":"d","s":"PO SPW","t":19.3,"d":-20},{"p":"d","s":"PO SPW","t":20.4,"d":-25},{"p":"d","s":"PO SPW","t":21.5,"d":-22.6},{"p":"d","s":"PO SPW","t":23.5,"d":-19.7},{"p":"d","s":"PO SPW","t":25.5,"d":-17.8},{"p":"d","s":"PO SPW","t":27.5,"d":-17.3},{"p":"d","s":"PO SPW","t":30,"d":-18},{"p":"d","s":"PO SPW","t":32,"d":-20.2},{"p":"d","s":"PO SPW","t":34.5,"d":-23.8},{"p":"d","s":"PO SPW","t":37,"d":-27.7},{"p":"d","s":"PO SPW","t":38.6,"d":-30},{"p":"d","s":"PO SPW","t":39.1,"d":-33},{"p":"d","s":"PO SPW","t":39.6,"d":-30},{"p":"d","s":"PO SPW","t":41.5,"d":-26.8},{"p":"d","s":"PO SPW","t":44,"d":-24.9},{"p":"d","s":"PO SPW","t":47.5,"d":-24.3},{"p":"d","s":"PO SPW","t":51,"d":-25.3},{"p":"d","s":"PO SPW","t":54,"d":-27.8},{"p":"d","s":"PO SPW","t":56.9,"d":-30},{"p":"d","s":"PO SPW","t":62,"d":-38},{"p":"d","s":"PO SPW","t":67,"d":-30},{"p":"d","s":"PO SPW","t":70.5,"d":-28.6},{"p":"d","s":"PO SPW","t":73,"d":-28.2},{"p":"d","s":"PO SPW","t":75.5,"d":-28.9},{"p":"d","s":"PO SPW","t":77.5,"d":-30}
]},
"columns": 2,
"spacing": {"column": 84, "row": 158},
"bounds": "flush",
"concat": [
 {"width": 290, "height": 217, "title": {"text": "3.5 GHz", "offset": -2},
  "transform": [{"filter": "datum.p == 'a'"}],
  "mark": {"type": "line", "clip": true, "strokeWidth": 2.3, "interpolate": "monotone"},
  "encoding": {
   "x": {"field": "t", "type": "quantitative", "scale": {"domain": [-90, 90], "nice": false}, "axis": {"values": [-90, -45, 0, 45, 90], "title": ["Theta [deg]", "(a)"], "titleLineHeight": 50, "titlePadding": 10}},
   "y": {"field": "d", "type": "quantitative", "scale": {"domain": [-30, 0], "nice": false}, "axis": {"values": [-30, -20, -10, 0], "title": null}},
   "color": {"field": "s", "type": "nominal", "scale": {"domain": ["CST", "PO SW", "PO SW+LW", "PO SPW"], "range": ["#000000", "#ff0000", "#0000ff", "#ff00ff"]}, "legend": {"orient": "none", "legendX": -74, "legendY": 730, "direction": "horizontal", "title": null, "symbolType": "M -3.9 0 L 3.9 0", "symbolSize": 400, "symbolStrokeWidth": 2.5, "symbolOffset": 32, "labelFontSize": 24, "labelOffset": 38, "columnPadding": 17, "padding": 10, "strokeColor": "#333333"}},
   "strokeDash": {"field": "s", "type": "nominal", "scale": {"domain": ["CST", "PO SW", "PO SW+LW", "PO SPW"], "range": [[14, 9], [13, 7, 3, 7], [1, 0], [3, 3]]}, "legend": {"orient": "none", "legendX": -74, "legendY": 730, "direction": "horizontal", "title": null, "symbolType": "M -3.9 0 L 3.9 0", "symbolSize": 400, "symbolStrokeWidth": 2.5, "symbolOffset": 32, "labelFontSize": 24, "labelOffset": 38, "columnPadding": 17, "padding": 10, "strokeColor": "#333333"}}
  }},
 {"width": 290, "height": 217, "title": {"text": "5 GHz", "offset": -2},
  "transform": [{"filter": "datum.p == 'c'"}],
  "mark": {"type": "line", "clip": true, "strokeWidth": 2.3, "interpolate": "monotone"},
  "encoding": {
   "x": {"field": "t", "type": "quantitative", "scale": {"domain": [-90, 90], "nice": false}, "axis": {"values": [-90, -45, 0, 45, 90], "title": ["Theta [deg]", "(c)"], "titleLineHeight": 50, "titlePadding": 10}},
   "y": {"field": "d", "type": "quantitative", "scale": {"domain": [-30, 0], "nice": false}, "axis": {"values": [-30, -20, -10, 0], "title": null}},
   "color": {"field": "s", "type": "nominal", "scale": {"domain": ["CST", "PO SW", "PO SW+LW", "PO SPW"], "range": ["#000000", "#ff0000", "#0000ff", "#ff00ff"]}},
   "strokeDash": {"field": "s", "type": "nominal", "scale": {"domain": ["CST", "PO SW", "PO SW+LW", "PO SPW"], "range": [[14, 9], [13, 7, 3, 7], [1, 0], [3, 3]]}}
  }},
 {"width": 290, "height": 217,
  "transform": [{"filter": "datum.p == 'b'"}],
  "mark": {"type": "line", "clip": true, "strokeWidth": 2.3, "interpolate": "monotone"},
  "encoding": {
   "x": {"field": "t", "type": "quantitative", "scale": {"domain": [-90, 90], "nice": false}, "axis": {"values": [-90, -45, 0, 45, 90], "title": ["Theta [deg]", "(b)"], "titleLineHeight": 50, "titlePadding": 10}},
   "y": {"field": "d", "type": "quantitative", "scale": {"domain": [-30, 0], "nice": false}, "axis": {"values": [-30, -20, -10, 0], "title": null}},
   "color": {"field": "s", "type": "nominal", "scale": {"domain": ["CST", "PO SW", "PO SW+LW", "PO SPW"], "range": ["#000000", "#ff0000", "#0000ff", "#ff00ff"]}},
   "strokeDash": {"field": "s", "type": "nominal", "scale": {"domain": ["CST", "PO SW", "PO SW+LW", "PO SPW"], "range": [[14, 9], [13, 7, 3, 7], [1, 0], [3, 3]]}}
  }},
 {"width": 290, "height": 217,
  "transform": [{"filter": "datum.p == 'd'"}],
  "mark": {"type": "line", "clip": true, "strokeWidth": 2.3, "interpolate": "monotone"},
  "encoding": {
   "x": {"field": "t", "type": "quantitative", "scale": {"domain": [-90, 90], "nice": false}, "axis": {"values": [-90, -45, 0, 45, 90], "title": ["Theta [deg]", "(d)"], "titleLineHeight": 50, "titlePadding": 10}},
   "y": {"field": "d", "type": "quantitative", "scale": {"domain": [-30, 0], "nice": false}, "axis": {"values": [-30, -20, -10, 0], "title": null}},
   "color": {"field": "s", "type": "nominal", "scale": {"domain": ["CST", "PO SW", "PO SW+LW", "PO SPW"], "range": ["#000000", "#ff0000", "#0000ff", "#ff00ff"]}},
   "strokeDash": {"field": "s", "type": "nominal", "scale": {"domain": ["CST", "PO SW", "PO SW+LW", "PO SPW"], "range": [[14, 9], [13, 7, 3, 7], [1, 0], [3, 3]]}}
  }}
]
}
